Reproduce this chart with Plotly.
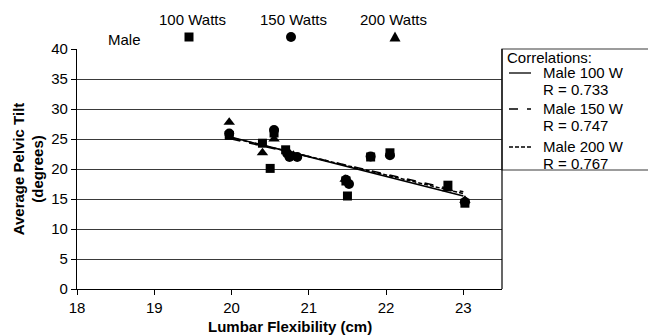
import plotly.graph_objects as go

# --- data ---
x_100 = [19.97, 20.40, 20.50, 20.55, 20.70, 21.48, 21.50, 21.80, 22.05, 22.80, 23.02]
y_100 = [25.6, 24.3, 20.1, 26.0, 23.2, 18.0, 15.5, 22.0, 22.7, 17.3, 14.3]

x_150 = [19.97, 20.55, 20.72, 20.75, 20.85, 21.48, 21.52, 21.80, 22.05, 23.02]
y_150 = [25.9, 26.5, 22.6, 22.0, 22.0, 18.2, 17.5, 22.1, 22.3, 14.5]

x_200 = [19.97, 20.40, 20.55, 20.80, 21.47, 22.80, 23.02]
y_200 = [27.8, 22.7, 25.0, 22.3, 18.3, 16.7, 14.8]

trend_x = [20.0, 23.0]
trend_100 = [25.3, 15.5]
trend_150 = [25.0, 16.2]
trend_200 = [25.2, 15.9]

key_labels = ["100 Watts", "150 Watts", "200 Watts"]
key_symbols = ["square", "circle", "triangle"]

corr_names = ["Male 100 W", "Male 150 W", "Male 200 W"]
corr_r = ["R = 0.733", "R = 0.747", "R = 0.767"]
corr_dash = ["solid", "dash", "4px,2px"]

x_ticks = [18, 19, 20, 21, 22, 23]
y_ticks = [0, 5, 10, 15, 20, 25, 30, 35, 40]

FONT = "Liberation Sans, Arial, sans-serif"
INK = "#000000"
GRID = "#3a3a3a"

fig = go.Figure()

for xs, ys, sym, sz in [(x_100, y_100, "square", 9), (x_150, y_150, "circle", 10), (x_200, y_200, "triangle-up", 10)]:
    fig.add_trace(go.Scatter(x=xs, y=ys, mode="markers",
                             marker=dict(symbol=sym, size=sz, color=INK, line=dict(width=0)),
                             showlegend=False, hoverinfo="skip"))

for ys, dash in zip([trend_100, trend_150, trend_200], corr_dash):
    fig.add_trace(go.Scatter(x=trend_x, y=ys, mode="lines",
                             line=dict(color=INK, width=1.5, dash=dash),
                             showlegend=False, hoverinfo="skip"))

L, R, T, B = 77, 146, 49, 47
W, H = 648, 336
pw, ph = W - L - R, H - T - B

def px(xpix):
    return (xpix - L) / pw

def py(ypix):
    return (H - B - ypix) / ph

def txt(x, y, s, anchor="center", size=15):
    return dict(x=px(x), y=py(y), xref="paper", yref="paper", text=s,
                xanchor=anchor, yanchor="middle", showarrow=False,
                font=dict(size=size, family=FONT, color=INK))

annotations = [txt(124, 40, "Male")]
shapes = []
key_cx = [189, 291, 395]
for lab, kx, cx, sym in zip(key_labels, [192, 293, 393], key_cx, key_symbols):
    annotations.append(txt(kx, 19, lab))
    cy = 37
    if sym == "square":
        shapes.append(dict(type="rect", xref="paper", yref="paper",
                           x0=px(cx - 4.5), x1=px(cx + 4.5), y0=py(cy + 4.5), y1=py(cy - 4.5),
                           fillcolor=INK, line=dict(width=0)))
    elif sym == "circle":
        shapes.append(dict(type="circle", xref="paper", yref="paper",
                           x0=px(cx - 5), x1=px(cx + 5), y0=py(cy + 5), y1=py(cy - 5),
                           fillcolor=INK, line=dict(width=0)))
    else:
        path = "M {0} {1} L {2} {3} L {4} {5} Z".format(
            px(cx - 5.5), py(cy + 4.5), px(cx + 5.5), py(cy + 4.5), px(cx), py(cy - 5.5))
        shapes.append(dict(type="path", xref="paper", yref="paper", path=path,
                           fillcolor=INK, line=dict(width=0)))

annotations.append(txt(505, 57, "Correlations:", anchor="left"))
row_y = [72, 108, 146]
for i, (nm, rr, dash) in enumerate(zip(corr_names, corr_r, corr_dash)):
    yy = row_y[i]
    annotations.append(txt(541, yy, nm, anchor="left"))
    annotations.append(txt(541, yy + 17.5, rr, anchor="left"))
    shapes.append(dict(type="line", xref="paper", yref="paper", x0=px(509), x1=px(531),
                       y0=py(yy + 1), y1=py(yy + 1), line=dict(color=INK, width=1.3, dash=dash)))

# x-axis title placed like the reference
annotations.append(txt(290, 326, "<b>Lumbar Flexibility (cm)</b>"))

# legend box
shapes.append(dict(type="rect", xref="paper", yref="paper", x0=1, x1=px(660), y0=py(170), y1=1,
                   line=dict(color=GRID, width=1.2)))
# right border of plot
shapes.append(dict(type="line", xref="paper", yref="paper", x0=1, x1=1, y0=0, y1=1,
                   line=dict(color=INK, width=1.2)))

fig.update_layout(
    width=W, height=H,
    margin=dict(l=L, r=R, t=T, b=B, autoexpand=False),
    paper_bgcolor="white", plot_bgcolor="white",
    font=dict(family=FONT, size=15, color=INK),
    showlegend=False,
    annotations=annotations,
    shapes=shapes,
    xaxis=dict(range=[18, 23.5], tickvals=x_ticks, ticks="outside", ticklen=5, tickcolor=INK,
               showline=True, linecolor=INK, linewidth=1.2, showgrid=False, zeroline=False,
               tickfont=dict(size=15, family=FONT), automargin=False),
    yaxis=dict(range=[0, 40], tickvals=y_ticks, ticks="outside", ticklen=5, tickcolor=INK,
               showline=True, linecolor=INK, linewidth=1.2, showgrid=True, gridcolor=GRID, gridwidth=1.2,
               zeroline=False, tickfont=dict(size=15, family=FONT), automargin=False,
               title=dict(text="<b>Average Pelvic Tilt<br>(degrees)</b>", font=dict(size=15, family=FONT), standoff=3)),
)

fig.write_html("out.html")
